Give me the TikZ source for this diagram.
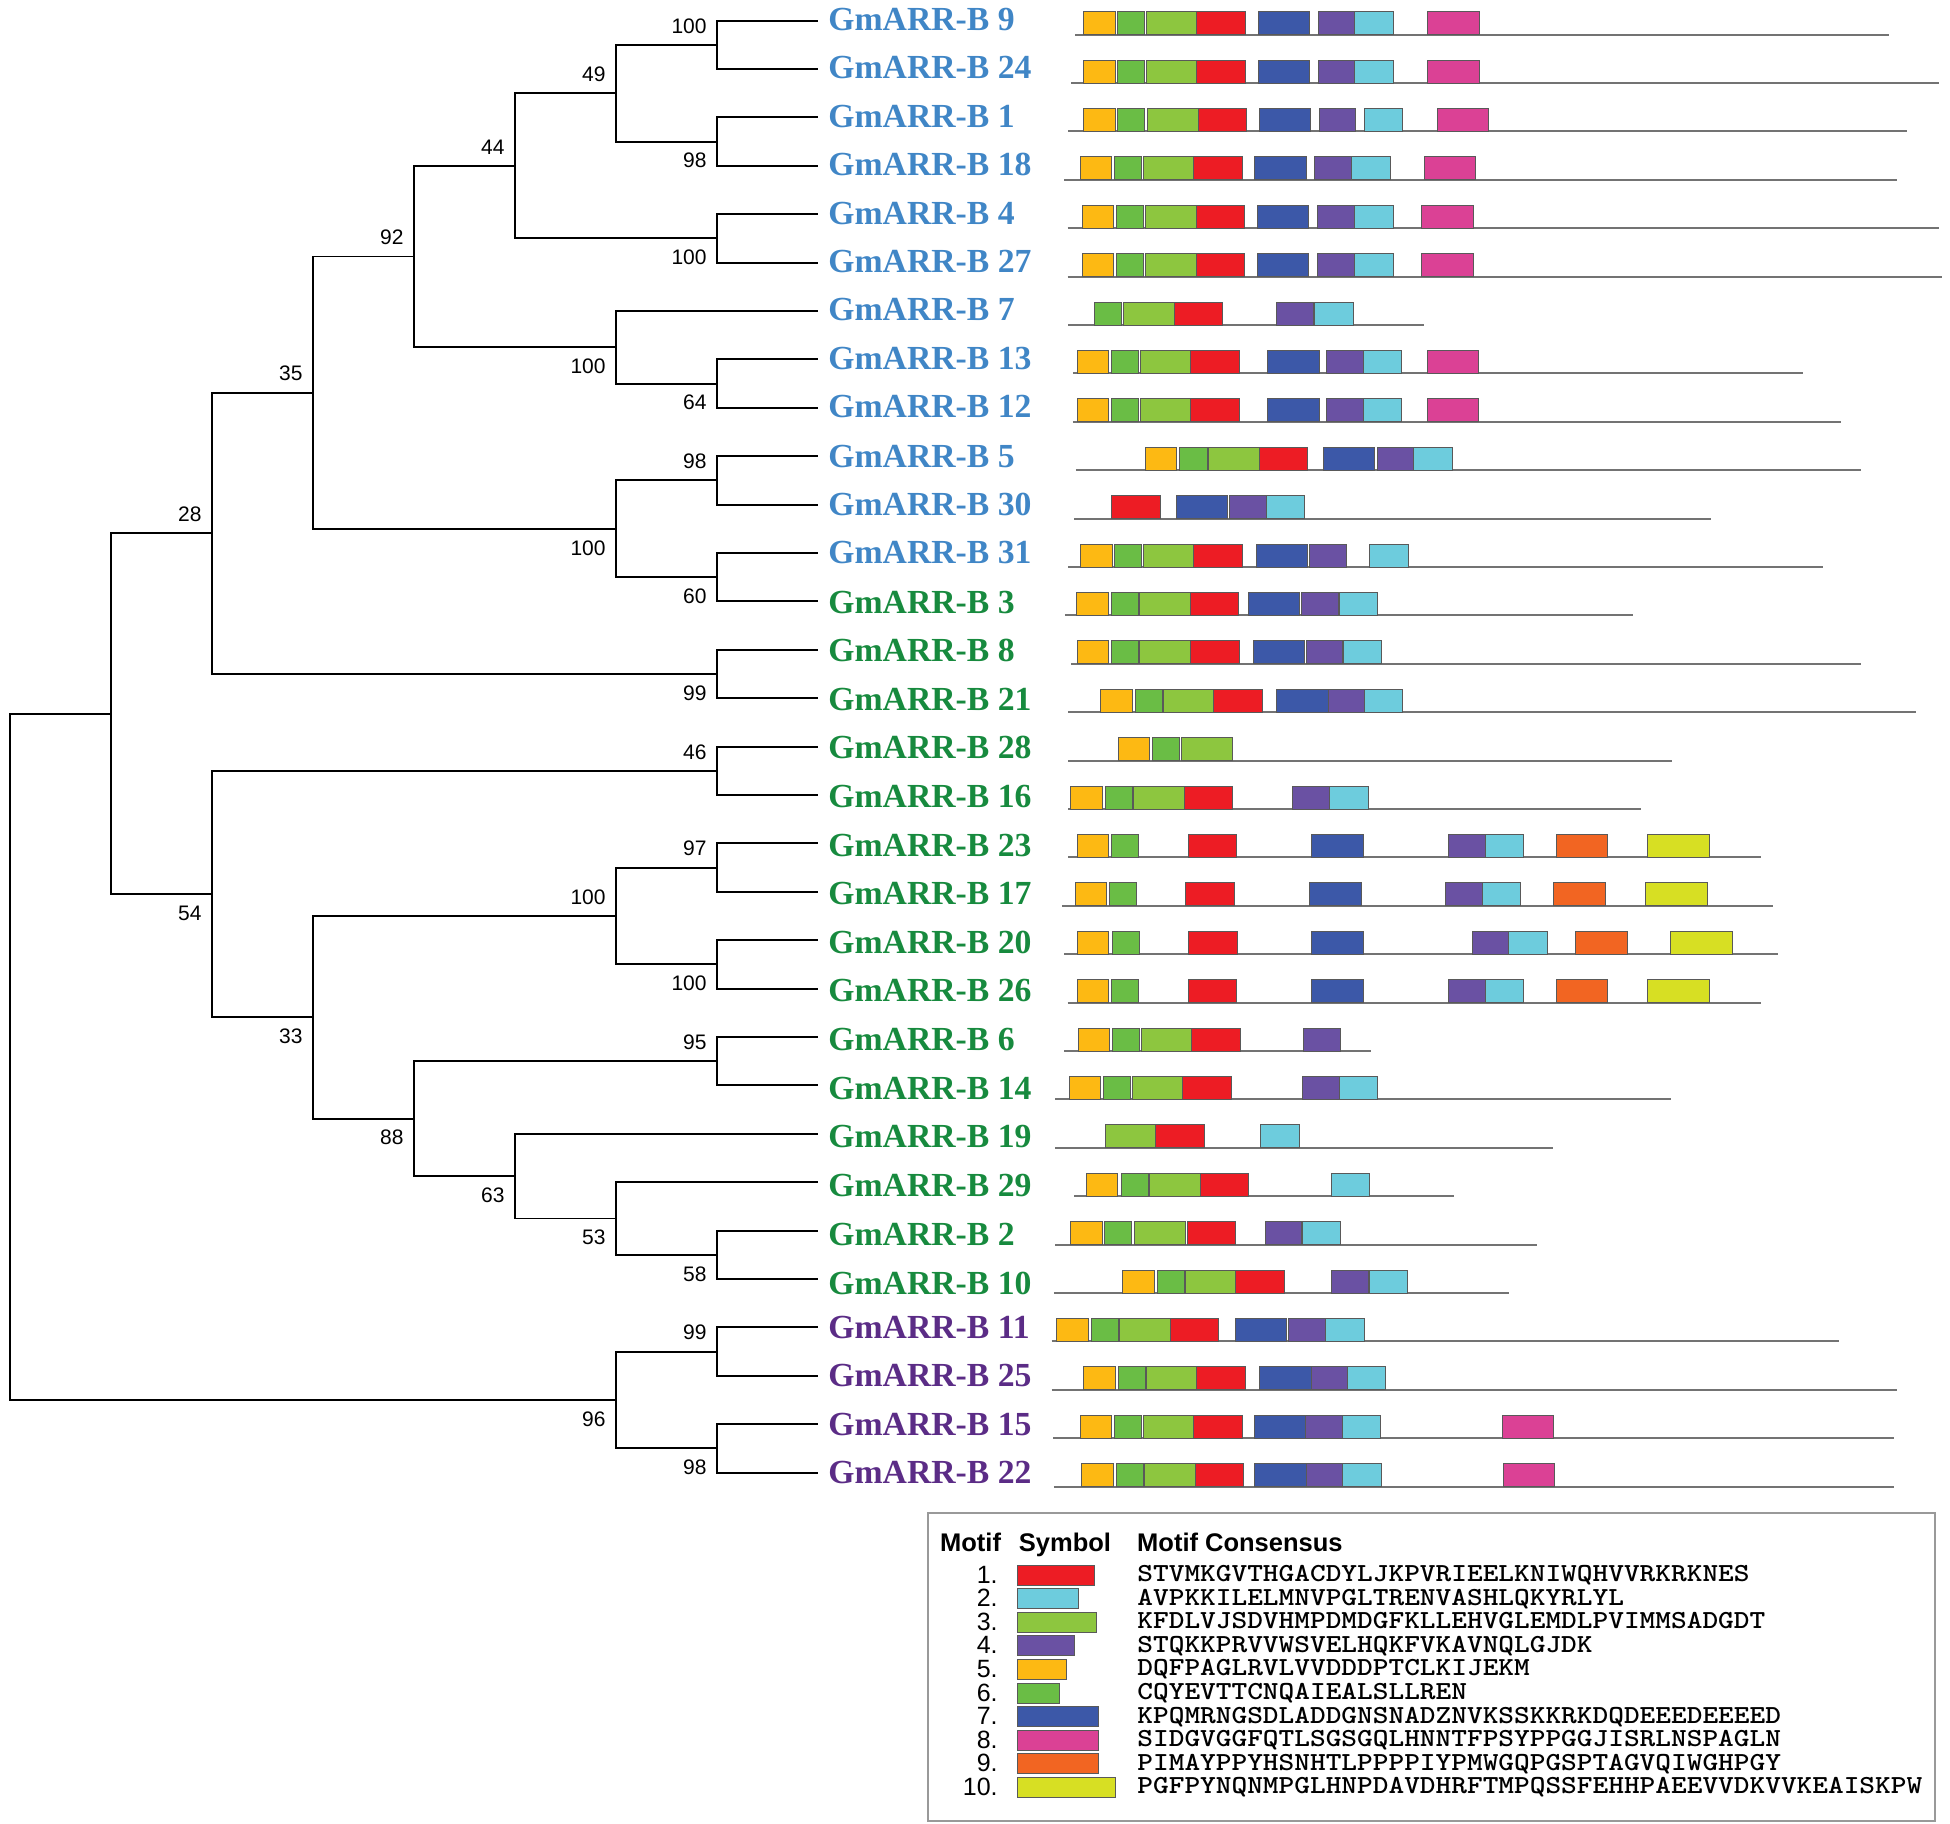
\documentclass[tikz,border=0pt]{standalone}
\usepackage{fontspec}
\usepackage{graphicx}
\setmainfont{Liberation Serif}
\newfontfamily\sansf{Liberation Sans}
\usetikzlibrary{calc}
\definecolor{cblue}{HTML}{4086C6}
\definecolor{cgreen}{HTML}{178A3E}
\definecolor{cpurple}{HTML}{5B2C86}
\definecolor{mc1}{HTML}{ED1C24}
\definecolor{mc2}{HTML}{6DCCDD}
\definecolor{mc3}{HTML}{8DC63F}
\definecolor{mc4}{HTML}{6A51A3}
\definecolor{mc5}{HTML}{FDB913}
\definecolor{mc6}{HTML}{6ABD45}
\definecolor{mc7}{HTML}{3C58A8}
\definecolor{mc8}{HTML}{DB4195}
\definecolor{mc9}{HTML}{F26522}
\definecolor{mc10}{HTML}{D7DF23}
\newcommand\mrow[4]{%
  \pgfmathsetmacro\yb{20.6+48.4*#1+14}
  \draw[seqline] (#2,\yb) -- (#3,\yb);
  \foreach \mm/\xx in {#4}{
    \pgfmathsetmacro\mw{{48.4,38.5,50.6,36.7,31.5,27.1,51.3,51.3,51.3,62.3}[int(\mm-1)]}
    \draw[mbox, fill=mc\mm] (\xx,\yb) rectangle ++(\mw,-23);
  }}
\begin{document}
\begin{tikzpicture}[x=0.5pt,y=-0.5pt,
  tree/.style={line width=0.95pt,black},
  seqline/.style={line width=1pt,black!55},
  mbox/.style={line width=0.45pt,draw=black!65},
  leaf/.style={font=\fontsize{16.85}{18}\selectfont\bfseries,inner sep=0pt,anchor=west},
  boot/.style={font=\sansf\fontsize{10.5}{12}\selectfont,inner sep=0pt,anchor=east},
  legh/.style={font=\sansf\bfseries\fontsize{12.75}{14}\selectfont,inner sep=0pt,anchor=base west},
  legn/.style={font=\sansf\fontsize{12.5}{14}\selectfont,inner sep=0pt,anchor=base east},
  legs/.style={inner sep=0pt,anchor=base west}]
\useasboundingbox (0,0) rectangle (1950,1824);

% leaves and labels
\foreach \nm/\kk/\col/\dy in {9/0/cblue/-1, 24/1/cblue/-1, 1/2/cblue/-1, 18/3/cblue/-1, 4/4/cblue/-1, 27/5/cblue/-1, 7/6/cblue/-1, 13/7/cblue/-1, 12/8/cblue/-1, 5/9/cblue/0, 30/10/cblue/0, 31/11/cblue/0, 3/12/cgreen/1, 8/13/cgreen/1, 21/14/cgreen/1, 28/15/cgreen/1, 16/16/cgreen/2, 23/17/cgreen/2, 17/18/cgreen/2, 20/19/cgreen/2, 26/20/cgreen/2, 6/21/cgreen/3, 14/22/cgreen/3, 19/23/cgreen/3, 29/24/cgreen/3, 2/25/cgreen/4, 10/26/cgreen/4, 11/27/cpurple/0, 25/28/cpurple/0, 15/29/cpurple/0, 22/30/cpurple/0}{
  \coordinate (t\nm) at (818,{20.6+48.4*\kk});
  \node[leaf,text=\col] (l\nm) at (828,{20.6+48.4*\kk+\dy}) {GmARR-B \nm};
}

% internal nodes
\coordinate (Na) at (717,44.8);
\coordinate (Nb) at (717,141.6);
\coordinate (Nc) at (616,93.2);
\coordinate (Nd) at (717,238.4);
\coordinate (Ne) at (515,165.8);
\coordinate (Nf) at (717,383.6);
\coordinate (Ng) at (616,347.3);
\coordinate (Nh) at (414,256.55);
\coordinate (Ni) at (717,480.4);
\coordinate (Nj) at (717,577.2);
\coordinate (Nk) at (616,528.8);
\coordinate (Nl) at (313,392.7);
\coordinate (Nm) at (717,674);
\coordinate (Nn) at (212,533.3);
\coordinate (No) at (717,770.8);
\coordinate (Np) at (717,867.6);
\coordinate (Nq) at (717,964.4);
\coordinate (Nr) at (616,916);
\coordinate (Ns) at (717,1061.2);
\coordinate (Nt) at (717,1254.8);
\coordinate (Nu) at (616,1218.5);
\coordinate (Nv) at (515,1176.15);
\coordinate (Nw) at (414,1118.7);
\coordinate (Nx) at (313,1017.3);
\coordinate (Ny) at (212,894.1);
\coordinate (Nz) at (111,713.7);
\coordinate (NA) at (717,1351.6);
\coordinate (NB) at (717,1448.4);
\coordinate (NC) at (616,1400);
\coordinate (NR) at (10,1056.85);

\draw[tree] (Na) |- (t9) (Na) |- (t24);
\draw[tree] (Nb) |- (t1) (Nb) |- (t18);
\draw[tree] (Nc) |- (Na) (Nc) |- (Nb);
\draw[tree] (Nd) |- (t4) (Nd) |- (t27);
\draw[tree] (Ne) |- (Nc) (Ne) |- (Nd);
\draw[tree] (Nf) |- (t13) (Nf) |- (t12);
\draw[tree] (Ng) |- (t7) (Ng) |- (Nf);
\draw[tree] (Nh) |- (Ne) (Nh) |- (Ng);
\draw[tree] (Ni) |- (t5) (Ni) |- (t30);
\draw[tree] (Nj) |- (t31) (Nj) |- (t3);
\draw[tree] (Nk) |- (Ni) (Nk) |- (Nj);
\draw[tree] (Nl) |- (Nh) (Nl) |- (Nk);
\draw[tree] (Nm) |- (t8) (Nm) |- (t21);
\draw[tree] (Nn) |- (Nl) (Nn) |- (Nm);
\draw[tree] (No) |- (t28) (No) |- (t16);
\draw[tree] (Np) |- (t23) (Np) |- (t17);
\draw[tree] (Nq) |- (t20) (Nq) |- (t26);
\draw[tree] (Nr) |- (Np) (Nr) |- (Nq);
\draw[tree] (Ns) |- (t6) (Ns) |- (t14);
\draw[tree] (Nt) |- (t2) (Nt) |- (t10);
\draw[tree] (Nu) |- (t29) (Nu) |- (Nt);
\draw[tree] (Nv) |- (t19) (Nv) |- (Nu);
\draw[tree] (Nw) |- (Ns) (Nw) |- (Nv);
\draw[tree] (Nx) |- (Nr) (Nx) |- (Nw);
\draw[tree] (Ny) |- (No) (Ny) |- (Nx);
\draw[tree] (Nz) |- (Nn) (Nz) |- (Ny);
\draw[tree] (NA) |- (t11) (NA) |- (t25);
\draw[tree] (NB) |- (t15) (NB) |- (t22);
\draw[tree] (NC) |- (NA) (NC) |- (NB);
\draw[tree] (NR) |- (Nz) (NR) |- (NC);

% bootstrap values (dir: -1 above, 1 below)
\foreach \nd/\val/\dir in {Na/100/-1, Nb/98/1, Nc/49/-1, Nd/100/1, Ne/44/-1, Nf/64/1, Ng/100/1, Nh/92/-1, Ni/98/-1, Nj/60/1, Nk/100/1, Nl/35/-1, Nm/99/1, Nn/28/-1, No/46/-1, Np/97/-1, Nq/100/1, Nr/100/-1, Ns/95/-1, Nt/58/1, Nu/53/1, Nv/63/1, Nw/88/1, Nx/33/1, Ny/54/1, NA/99/-1, NB/98/1, NC/96/1}{
  \node[boot] (b\nd) at ($(\nd)+(-10,{19*\dir})$) {\val};
}

% motif rows
\mrow{0}{1075}{1889}{5/1083.8, 6/1117.6, 3/1146.2, 1/1196.8, 7/1258.4, 4/1318.5, 2/1354.5, 8/1427.8}
\mrow{1}{1071.4}{1939}{5/1083.8, 6/1117.6, 3/1146.2, 1/1196.8, 7/1258.4, 4/1318.5, 2/1354.5, 8/1427.8}
\mrow{2}{1068.4}{1907.4}{5/1083.8, 6/1117.6, 3/1147.6, 1/1198.2, 7/1259.1, 4/1319.2, 2/1364, 8/1437.3}
\mrow{3}{1064}{1897}{5/1080.2, 6/1114.6, 3/1143.2, 1/1193.8, 7/1254.7, 4/1314.8, 2/1351.5, 8/1424}
\mrow{4}{1067.7}{1939}{5/1082.4, 6/1116.8, 3/1145.4, 1/1196, 7/1257.6, 4/1317.8, 2/1354.5, 8/1421.9}
\mrow{5}{1067.7}{1942}{5/1082.4, 6/1116.8, 3/1145.4, 1/1196, 7/1257.6, 4/1317.8, 2/1354.5, 8/1421.9}
\mrow{6}{1068.4}{1424}{6/1094.8, 3/1123.4, 1/1174, 4/1276.7, 2/1314.9}
\mrow{7}{1072.8}{1803.3}{5/1077.2, 6/1111.7, 3/1140.3, 1/1190.9, 7/1267.9, 4/1326.6, 2/1363.3, 8/1427}
\mrow{8}{1072.8}{1841.4}{5/1077.2, 6/1111.7, 3/1140.3, 1/1190.9, 7/1267.9, 4/1326.6, 2/1363.3, 8/1427}
\mrow{9}{1075.8}{1861.2}{5/1145.4, 6/1179.9, 3/1208.5, 1/1259.1, 7/1323.6, 4/1377.2, 2/1413.9}
\mrow{10}{1074.3}{1710.9}{1/1111.7, 7/1176.2, 4/1229.8, 2/1266.4}
\mrow{11}{1068.4}{1823.1}{5/1080.9, 6/1114.6, 3/1143.2, 1/1193.8, 7/1256.2, 4/1309.7, 2/1369.9}
\mrow{12}{1064.8}{1633.1}{5/1076.5, 6/1111, 3/1139.6, 1/1190.2, 7/1248.1, 4/1301.6, 2/1339}
\mrow{13}{1071.4}{1861.2}{5/1077.2, 6/1111.7, 3/1139.6, 1/1190.9, 7/1253.2, 4/1306, 2/1343.4}
\mrow{14}{1068.4}{1916.2}{5/1100.7, 6/1135.2, 3/1163.8, 1/1213.6, 7/1276.7, 4/1328, 2/1364}
\mrow{15}{1068.4}{1672}{5/1118.3, 6/1152.8, 3/1181.4}
\mrow{16}{1068.4}{1641.2}{5/1070.6, 6/1105.1, 3/1133.7, 1/1184.3, 4/1292.8, 2/1329.5}
\mrow{17}{1068.4}{1760.8}{5/1077.2, 6/1111.7, 1/1188, 7/1311.9, 4/1448.3, 2/1485, 9/1556.1, 10/1647.1}
\mrow{18}{1061.8}{1773.2}{5/1075, 6/1109.5, 1/1185.8, 7/1309.7, 4/1445.4, 2/1482, 9/1553.9, 10/1645.6}
\mrow{19}{1064}{1777.6}{5/1077.2, 6/1112.4, 1/1188.7, 7/1311.9, 4/1472.5, 2/1508.5, 9/1575.9, 10/1670.5}
\mrow{20}{1067.7}{1760.8}{5/1077.2, 6/1111.7, 1/1188, 7/1311.9, 4/1448.3, 2/1485, 9/1556.1, 10/1647.1}
\mrow{21}{1064}{1371.3}{5/1078, 6/1112.4, 3/1141, 1/1191.6, 4/1303.8}
\mrow{22}{1055.2}{1670.5}{5/1069.2, 6/1103.6, 3/1132.2, 1/1182.8, 4/1302.4, 2/1339}
\mrow{23}{1055.2}{1552.5}{3/1105.8, 1/1155.7, 2/1260.6}
\mrow{24}{1074.3}{1453.5}{5/1086, 6/1121.2, 3/1149.8, 1/1200.4, 2/1331}
\mrow{25}{1055.2}{1537}{5/1070.6, 6/1104.4, 3/1134.4, 1/1187.2, 4/1265, 2/1302.4}
\mrow{26}{1053.8}{1508.5}{5/1122.7, 6/1157.2, 3/1185.8, 1/1235.6, 4/1331.7, 2/1369.1}
\mrow{27}{1051.6}{1839.2}{5/1056.7, 6/1091.2, 3/1119.8, 1/1170.4, 7/1235.6, 4/1288.4, 2/1325.8}
\mrow{28}{1051.6}{1897.2}{5/1083.8, 6/1118.3, 3/1146.9, 1/1196.8, 7/1259.8, 4/1311.2, 2/1347.1}
\mrow{29}{1053}{1894.2}{5/1080.2, 6/1114.6, 3/1143.2, 1/1193.8, 7/1254, 4/1305.3, 2/1342, 8/1502.6}
\mrow{30}{1053.8}{1894.2}{5/1081.6, 6/1116.1, 3/1144.7, 1/1195.3, 7/1254.7, 4/1306, 2/1342.7, 8/1503.3}

% legend
\draw[line width=1pt,black!40] (928,1513) rectangle (1935,1821);
\node[legh] (hm) at (939.7,1551.5) {Motif};
\node[legh] (hs) at (1018.5,1551.5) {Symbol};
\node[legh] (hc) at (1136.8,1551.5) {Motif Consensus};
\foreach \mi/\symend/\seqtxt in {1/1094/STVMKGVTHGACDYLJKPVRIEELKNIWQHVVRKRKNES, 2/1078.3/AVPKKILELMNVPGLTRENVASHLQKYRLYL, 3/1096/KFDLVJSDVHMPDMDGFKLLEHVGLEMDLPVIMMSADGDT, 4/1074.4/STQKKPRVVWSVELHQKFVKAVNQLGJDK, 5/1066.5/DQFPAGLRVLVVDDDPTCLKIJEKM, 6/1059.3/CQYEVTTCNQAIEALSLLREN, 7/1098/KPQMRNGSDLADDGNSNADZNVKSSKKRKDQDEEEDEEEED, 8/1098/SIDGVGGFQTLSGSGQLHNNTFPSYPPGGJISRLNSPAGLN, 9/1098/PIMAYPPYHSNHTLPPPPIYPMWGQPGSPTAGVQIWGHPGY, 10/1115.8/PGFPYNQNMPGLHNPDAVDHRFTMPQSSFEHHPAEEVVDKVVKEAISKPW}{
  \pgfmathsetmacro\ry{1574+23.6*(\mi-1)}
  \node[legn] (n\mi) at (998,\ry+9) {\mi.};
  \draw[mbox, fill=mc\mi] (1017,\ry-9) rectangle (\symend,\ry+11);
  \node[legs] (s\mi) at (1137,\ry+7.5) {\scalebox{1.15}[1]{\ttfamily\bfseries\fontsize{13}{15}\selectfont \seqtxt}};
}
\end{tikzpicture}
\end{document}
